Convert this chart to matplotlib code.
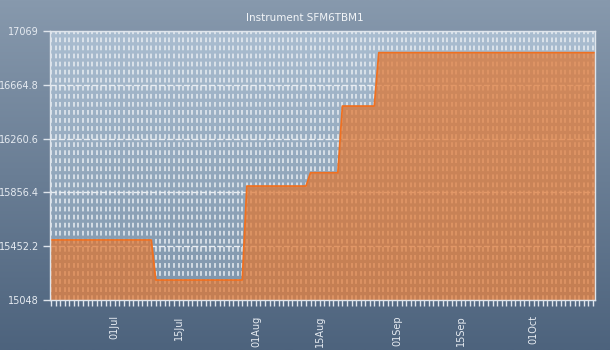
import datetime as dt
import numpy as np
import matplotlib
matplotlib.use("Agg")
import matplotlib.pyplot as plt
import matplotlib.dates as mdates
from matplotlib.colors import LinearSegmentedColormap

plt.rcParams["lines.scale_dashes"] = False
plt.rcParams["font.family"] = ["DejaVu Sans"]

# Step changes of the instrument value (date, value)
dates = ["2024-06-15", "2024-07-09", "2024-07-10", "2024-07-29", "2024-07-30",
         "2024-08-12", "2024-08-13", "2024-08-19", "2024-08-20", "2024-08-27",
         "2024-08-28", "2024-10-16"]
values = [15499, 15499, 15198, 15198, 15904, 15904, 16004, 16004, 16505,
          16505, 16906, 16906]

y_ticks = [15048, 15452.2, 15856.4, 16260.6, 16664.8, 17069]
y_labels = ["15048", "15452.2", "15856.4", "16260.6", "16664.8", "17069"]
title = "Instrument SFM6TBM1"

x = [dt.datetime.strptime(d, "%Y-%m-%d") for d in dates]
x_start = dt.datetime(2024, 6, 16, 18)
x_end = dt.datetime(2024, 10, 14, 12)

W, H = 610, 350
fig = plt.figure(figsize=(W / 100, H / 100), dpi=100)

# Figure background gradient
bg = fig.add_axes([0, 0, 1, 1], zorder=-10)
bg_cmap = LinearSegmentedColormap.from_list("bg", ["#8799ad", "#4d637d"])
bg.imshow(np.linspace(0, 1, 256).reshape(-1, 1), aspect="auto", cmap=bg_cmap,
          extent=[0, 1, 0, 1], origin="upper")
bg.set_axis_off()

left, right, top, bottom = 50, 595, 31, 300
ax = fig.add_axes([left / W, (H - bottom) / H, (right - left) / W, (bottom - top) / H])
ax.set_facecolor("none")

# Plot area gradient
pa_cmap = LinearSegmentedColormap.from_list("pa", ["#aabdd0", "#7e95ab"])
ax.imshow(np.linspace(0, 1, 256).reshape(-1, 1), aspect="auto", cmap=pa_cmap,
          extent=[0, 1, 0, 1], origin="upper", transform=ax.transAxes, zorder=0)

grid_col = "#e8edf2"
ax.xaxis.set_major_locator(mdates.DayLocator(bymonthday=[1, 15]))
ax.xaxis.set_minor_locator(mdates.DayLocator())
ax.xaxis.set_major_formatter(mdates.DateFormatter("%d%b"))
ax.grid(which="both", axis="x", color=grid_col, linewidth=1.1,
        linestyle=(0, (3.4, 2.4)), zorder=1)
ax.grid(which="major", axis="y", color=grid_col, linewidth=1.0,
        linestyle=(0, (4.5, 1.5)), zorder=1)

ax.fill_between(x, values, y_ticks[0], color="#e07631", alpha=0.72,
                linewidth=0, zorder=2)
ax.plot(x, values, color="#f07020", linewidth=1.3, zorder=3)

ax.set_xlim(x_start, x_end)
ax.set_ylim(y_ticks[0], y_ticks[-1])
ax.set_yticks(y_ticks)
ax.set_yticklabels(y_labels)

spine_col = "#dfe5ec"
for s in ax.spines.values():
    s.set_color(spine_col)
    s.set_linewidth(1.0)
    s.set_zorder(4)

ax.tick_params(axis="y", which="major", length=5, width=1, color=spine_col,
               labelcolor="#e6ebf1", labelsize=7, pad=3)
ax.tick_params(axis="x", which="both", length=4, width=1, color=spine_col,
               labelcolor="#e6ebf1", labelsize=7, pad=7)
for lab in ax.get_xticklabels():
    lab.set_rotation(90)
    lab.set_va("top")
    lab.set_ha("center")

fig.text(0.5, 1 - 18 / H, title, color="#f2f5f8", fontsize=7.5,
         ha="center", va="center")

fig.savefig("out.png", dpi=100)
